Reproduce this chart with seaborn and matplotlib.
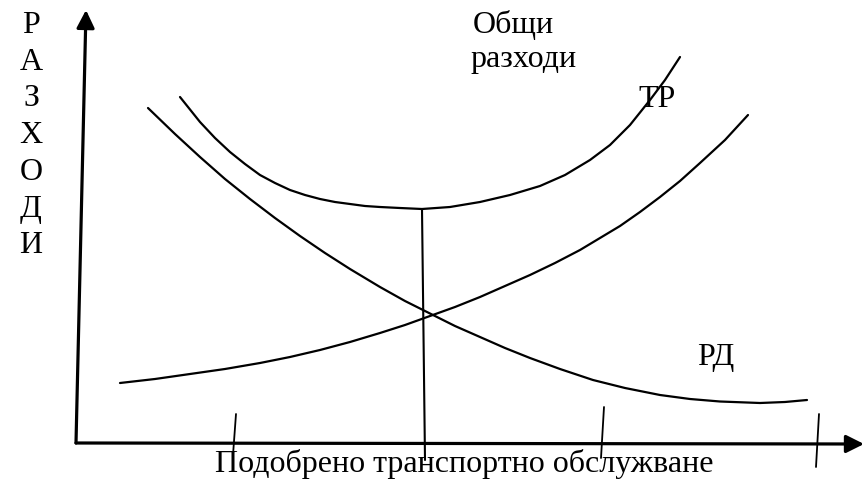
import pandas as pd
import matplotlib.pyplot as plt
import seaborn as sns

# Curve points (pixel coordinates, y grows downward)
total_x = [180, 200, 215, 230, 245, 260, 275, 290, 305, 320, 335, 350, 365, 380, 400, 422,
           450, 480, 510, 540, 565, 590, 610, 630, 650, 665, 680]
total_y = [97, 122, 138, 152, 164, 175, 183, 190, 195, 199, 202, 204, 206, 207, 208, 209,
           207, 202, 195, 186, 175, 160, 145, 125, 100, 80, 57]

rd_x = [148, 175, 200, 225, 250, 275, 300, 325, 350, 380, 405, 433, 455, 480, 505, 530,
        560, 593, 625, 660, 690, 720, 760, 785, 807]
rd_y = [108, 134, 157, 179, 199, 218, 236, 253, 269, 287, 301, 315, 326, 337, 348, 358,
        369, 380, 388, 395, 399, 401.5, 403, 402, 400]

tr_x = [120, 155, 190, 225, 260, 290, 320, 350, 380, 405, 430, 455, 480, 505, 530, 555,
        580, 600, 620, 640, 660, 680, 700, 725, 748]
tr_y = [383, 379, 374, 369, 363, 357, 350, 342, 333, 325, 316, 307, 297, 286, 275, 263,
        250, 238, 226, 212, 197, 181, 163, 140, 115]

# optimum drop line and the small marks on the horizontal axis
opt_x = [422, 425]
opt_y = [209, 460]
marks = [((236, 414), (233, 455)), ((604, 407), (601, 458)), ((819, 414), (816, 467))]

# axes: origin, tips
origin = (76, 443)
y_tip = (86, 10)
x_tip = (864, 444)

y_letters = ['Р', 'А', 'З', 'Х', 'О', 'Д', 'И']
x_title = 'Подобрено транспортно обслужване'
label_total = ['Общи', 'разходи']
label_tr = 'ТР'
label_rd = 'РД'

sns.set_theme(style='white')
plt.rcParams['font.family'] = ['Liberation Serif', 'DejaVu Serif']

fig = plt.figure(figsize=(8.64, 4.82), dpi=100)
ax = fig.add_axes([0, 0, 1, 1])
ax.set_xlim(0, 864)
ax.set_ylim(482, 0)
ax.axis('off')

curves = [(total_x, total_y), (rd_x, rd_y), (tr_x, tr_y)]
for cx, cy in curves:
    df = pd.DataFrame({'x': cx, 'y': cy})
    sns.lineplot(data=df, x='x', y='y', ax=ax, color='black', linewidth=1.6,
                 sort=False, estimator=None)

sns.lineplot(x=opt_x, y=opt_y, ax=ax, color='black', linewidth=1.5,
             sort=False, estimator=None)
for (x0, y0), (x1, y1) in marks:
    sns.lineplot(x=[x0, x1], y=[y0, y1], ax=ax, color='black', linewidth=1.3,
                 sort=False, estimator=None)

arrow = dict(arrowstyle='-|>,head_length=0.4,head_width=0.2', color='black',
             lw=2.3, mutation_scale=27, shrinkA=0, shrinkB=0)
ax.annotate('', xy=y_tip, xytext=origin, arrowprops=arrow, annotation_clip=False)
ax.annotate('', xy=x_tip, xytext=origin, arrowprops=arrow, annotation_clip=False)

fs = 23
for i, ch in enumerate(y_letters):
    ax.text(31, 33 + i * 36.7, ch, fontsize=fs, ha='center', va='baseline', color='black')

ax.text(464, 472, x_title, fontsize=fs, ha='center', va='baseline', color='black')
ax.text(513, 33, label_total[0], fontsize=fs, ha='center', va='baseline', color='black')
ax.text(524, 67, label_total[1], fontsize=fs, ha='center', va='baseline', color='black')
ax.text(657, 107, label_tr, fontsize=fs, ha='center', va='baseline', color='black')
ax.text(716, 365, label_rd, fontsize=fs, ha='center', va='baseline', color='black')

fig.savefig('out.png', dpi=100, facecolor='white')
